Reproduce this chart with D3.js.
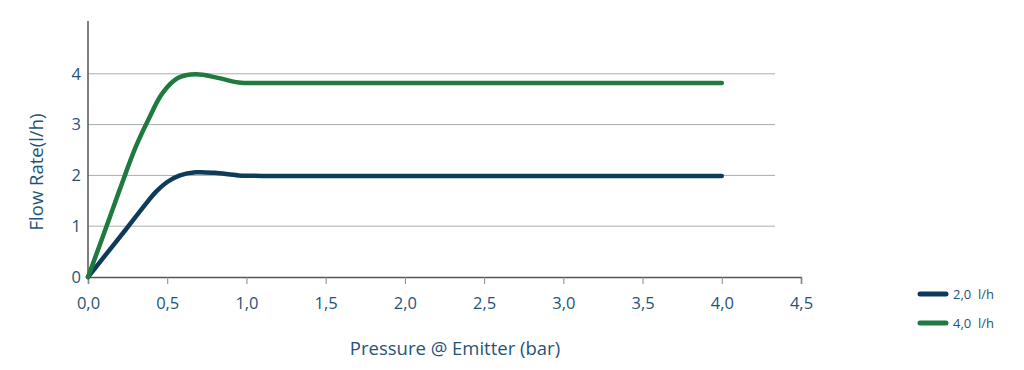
<!DOCTYPE html>
<html><head><meta charset="utf-8">
<script src="https://cdn.jsdelivr.net/npm/d3@7"></script>
<style>body{margin:0;background:#fff;} text{font-family:"Open Sans",sans-serif;}</style>
</head><body><svg id="c" width="1024" height="370"></svg>
<script>
const xTicks = [0, 0.5, 1, 1.5, 2, 2.5, 3, 3.5, 4, 4.5];
const yTicks = [0, 1, 2, 3, 4];
const seriesNames = ["2,0  l/h", "4,0  l/h"];
const series2Pressure = [0, 0.12, 0.24, 0.36, 0.43, 0.5, 0.58, 0.68, 0.8, 0.95, 1.1, 2, 3, 4];
const series2Flow     = [0, 0.47, 0.94, 1.42, 1.68, 1.87, 2.0, 2.06, 2.05, 2.0, 1.99, 1.99, 1.99, 1.99];
const series4Pressure = [0, 0.1, 0.2, 0.3, 0.38, 0.47, 0.57, 0.68, 0.82, 0.95, 1.1, 2, 3, 4];
const series4Flow     = [0, 0.85, 1.72, 2.55, 3.09, 3.62, 3.92, 3.99, 3.92, 3.83, 3.82, 3.82, 3.82, 3.82];
const colors = ["#0e3b5a", "#1e7a3e"];
const textColor = "#1f5478";

const svg = d3.select("#c");
const x = d3.scaleLinear().domain([0, 4.5]).range([88, 801]);
const y = d3.scaleLinear().domain([0, 5]).range([277, 23]);

// gridlines
svg.append("g").selectAll("line").data(yTicks.slice(1)).join("line")
  .attr("x1", x(0)).attr("x2", 775).attr("y1", d => y(d)).attr("y2", d => y(d))
  .attr("stroke", "#a9aeab").attr("stroke-width", 1);

// x axis
const xAxis = svg.append("g").attr("transform", `translate(0,${y(0)})`)
  .call(d3.axisBottom(x).tickValues(xTicks).tickSize(7).tickPadding(13)
    .tickFormat(d => d3.format(".1f")(d).replace(".", ",")));
xAxis.select(".domain").attr("stroke", "#555").attr("stroke-width", 1.5);
xAxis.selectAll(".tick line").attr("stroke", "#888");
xAxis.selectAll("text").attr("fill", textColor).attr("font-size", 16.5).attr("font-family", "Open Sans");

// y axis
const yAxis = svg.append("g").attr("transform", `translate(${x(0)},0)`)
  .call(d3.axisLeft(y).tickValues(yTicks).tickSize(0).tickPadding(7).tickFormat(d3.format("d")));
yAxis.select(".domain").attr("stroke", "#555").attr("stroke-width", 1.5).attr("d", `M0,${y(0)}V21`);
yAxis.selectAll("text").attr("fill", textColor).attr("font-size", 16.5).attr("font-family", "Open Sans");

// lines
const data = [
  series2Pressure.map((p, i) => [p, series2Flow[i]]),
  series4Pressure.map((p, i) => [p, series4Flow[i]])
];
const line = d3.line().x(d => x(d[0])).y(d => y(d[1])).curve(d3.curveCatmullRom.alpha(0.5));
svg.append("g").selectAll("path").data(data).join("path")
  .attr("d", line).attr("fill", "none")
  .attr("stroke", (d, i) => colors[i]).attr("stroke-width", 4.5)
  .attr("stroke-linecap", "round").attr("stroke-linejoin", "round");

// axis titles
svg.append("text").attr("transform", "translate(43,172) rotate(-90)")
  .attr("text-anchor", "middle").attr("fill", textColor).attr("font-size", 18.5)
  .text("Flow Rate(l/h)");
svg.append("text").attr("x", 455).attr("y", 355)
  .attr("text-anchor", "middle").attr("fill", textColor).attr("font-size", 18.5)
  .text("Pressure @ Emitter (bar)");

// legend
const lg = svg.append("g").selectAll("g").data(seriesNames).join("g")
  .attr("transform", (d, i) => `translate(918,${294 + i * 29})`);
lg.append("line").attr("x1", 2).attr("x2", 28).attr("y1", 0).attr("y2", 0)
  .attr("stroke", (d, i) => colors[i]).attr("stroke-width", 5).attr("stroke-linecap", "round");
lg.append("text").attr("x", 35).attr("y", 4.5).attr("fill", textColor).attr("font-size", 13)
  .style("white-space", "pre").text(d => d);
</script></body></html>
